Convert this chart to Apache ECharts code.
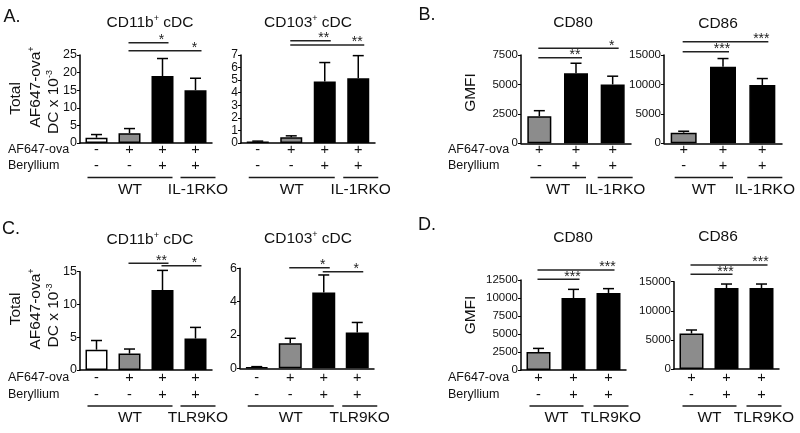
<!DOCTYPE html>
<html><head><meta charset="utf-8">
<script src="https://cdn.jsdelivr.net/npm/echarts/dist/echarts.min.js"></script>
<style>html,body{margin:0;padding:0;background:#fff}#c{width:800px;height:433px}</style>
</head><body><div id="c"></div>
<script>
// ---------------- data ----------------
const A1_values = [1.5, 2.8, 19.0, 15.0];
const A1_errors = [0.9, 1.3, 5.0, 3.4];
const A2_values = [0.12, 0.45, 4.9, 5.15];
const A2_errors = [0.03, 0.12, 1.5, 1.8];
const B1_values = [2300, 5950, 5000];
const B1_errors = [470, 850, 700];
const B2_values = [1800, 13000, 9900];
const B2_errors = [250, 1400, 1100];
const C1_values = [3.1, 2.5, 12.2, 4.8];
const C1_errors = [1.4, 0.7, 3.0, 1.7];
const C2_values = [0.08, 1.5, 4.55, 2.15];
const C2_errors = [0.02, 0.3, 1.05, 0.6];
const D1_values = [2500, 10000, 10700];
const D1_errors = [500, 1200, 600];
const D2_values = [6100, 13900, 13900];
const D2_errors = [600, 700, 700];

const ova4 = ['-', '+', '+', '+'];
const beryllium4 = ['-', '-', '+', '+'];
const ova3 = ['+', '+', '+'];
const beryllium3 = ['-', '+', '+'];
const fill4 = ['white', 'gray', 'black', 'black'];
const fill3 = ['gray', 'black', 'black'];

const groupsA = [['WT', 0, 2], ['IL-1RKO', 3, 3]];
const groupsB = [['WT', 0, 1], ['IL-1RKO', 2, 2]];
const groupsC = [['WT', 0, 2], ['TLR9KO', 3, 3]];
const groupsD = [['WT', 0, 1], ['TLR9KO', 2, 2]];

const A1_sig = [[1, 2, '*'], [1, 3, '*']];
const A2_sig = [[1, 2, '**'], [1, 3, '**']];
const B1_sig = [[0, 1, '**'], [0, 2, '*']];
const B2_sig = [[0, 1, '***'], [0, 2, '***']];
const C1_sig = [[1, 2, '**'], [2, 3, '*']];
const C2_sig = [[1, 2, '*'], [2, 3, '*']];
const D1_sig = [[0, 1, '***'], [0, 2, '***']];
const D2_sig = [[0, 1, '***'], [0, 2, '***']];

const A1_axis = [0, 25, 5];
const A2_axis = [0, 7, 1];
const B1_axis = [0, 7500, 2500];
const B2_axis = [0, 15000, 5000];
const C1_axis = [0, 15, 5];
const C2_axis = [0, 6, 2];
const D1_axis = [0, 12500, 2500];
const D2_axis = [0, 15000, 5000];

// ---------------- layout / style ----------------
const FF = '"Liberation Sans", Arial, Helvetica, sans-serif';
const INK = '#111';
const FILL = { white: '#ffffff', gray: '#8c8c8c', black: '#000000' };
const ROWS = {
  top: { ova: 149.5, be: 166, line: 177.5, label: 190 },
  bottom: { ova: 377.5, be: 394.5, line: 406, label: 417.5 }
};

const panels = [
  { title: ['CD11b', '+', ' cDC'], values: A1_values, errors: A1_errors, axis: A1_axis, sig: A1_sig, ova: ova4, be: beryllium4, fill: fill4, groups: groupsA,
    grid: { left: 80, top: 55, width: 132, height: 88 }, bw: 22, tx: 150, ty: 23, sigY: [42.7, 50.7], row: 'top', lf: 12.5 },
  { title: ['CD103', '+', ' cDC'], values: A2_values, errors: A2_errors, axis: A2_axis, sig: A2_sig, ova: ova4, be: beryllium4, fill: fill4, groups: groupsA,
    grid: { left: 241, top: 55, width: 134, height: 88 }, bw: 22, tx: 308, ty: 23, sigY: [40.7, 45], row: 'top', lf: 12 },
  { title: ['CD80', '', ''], values: B1_values, errors: B1_errors, axis: B1_axis, sig: B1_sig, ova: ova3, be: beryllium3, fill: fill3, groups: groupsB,
    grid: { left: 521, top: 55, width: 110, height: 88.3 }, bw: 24, tx: 573, ty: 23, sigY: [57.7, 48.3], row: 'top', lf: 11.5 },
  { title: ['CD86', '', ''], values: B2_values, errors: B2_errors, axis: B2_axis, sig: B2_sig, ova: ova3, be: beryllium3, fill: fill3, groups: groupsB,
    grid: { left: 664, top: 55, width: 118, height: 88.3 }, bw: 26, tx: 718, ty: 23.5, sigY: [51.7, 41.7], row: 'top', lf: 11.5 },
  { title: ['CD11b', '+', ' cDC'], values: C1_values, errors: C1_errors, axis: C1_axis, sig: C1_sig, ova: ova4, be: beryllium4, fill: fill4, groups: groupsC,
    grid: { left: 80, top: 271.7, width: 132, height: 98.3 }, bw: 22, tx: 150, ty: 240, sigY: [263.3, 265.7], row: 'bottom', lf: 12.5 },
  { title: ['CD103', '+', ' cDC'], values: C2_values, errors: C2_errors, axis: C2_axis, sig: C2_sig, ova: ova4, be: beryllium4, fill: fill4, groups: groupsC,
    grid: { left: 240, top: 268.3, width: 134, height: 100 }, bw: 23, tx: 308, ty: 239, sigY: [267.7, 271.7], row: 'bottom', lf: 12.5 },
  { title: ['CD80', '', ''], values: D1_values, errors: D1_errors, axis: D1_axis, sig: D1_sig, ova: ova3, be: beryllium3, fill: fill3, groups: groupsD,
    grid: { left: 521, top: 280, width: 105, height: 90 }, bw: 24, tx: 573, ty: 238, sigY: [279.3, 270], row: 'bottom', lf: 11.5 },
  { title: ['CD86', '', ''], values: D2_values, errors: D2_errors, axis: D2_axis, sig: D2_sig, ova: ova3, be: beryllium3, fill: fill3, groups: groupsD,
    grid: { left: 674, top: 281.7, width: 105, height: 87.3 }, bw: 24, tx: 718, ty: 237, sigY: [274.3, 265], row: 'bottom', lf: 11.5 }
];

const chart = echarts.init(document.getElementById('c'), null, { renderer: 'canvas' });

const grids = [], xAxes = [], yAxes = [], series = [];
panels.forEach((p, g) => {
  grids.push(Object.assign({ containLabel: false }, p.grid));
  xAxes.push({
    type: 'category', gridIndex: g, data: p.values.map((_, i) => String(i)),
    axisLine: { show: true, lineStyle: { color: '#000', width: 1.5 } },
    axisTick: { show: false }, axisLabel: { show: false }, splitLine: { show: false }
  });
  yAxes.push({
    type: 'value', gridIndex: g, min: p.axis[0], max: p.axis[1], interval: p.axis[2],
    axisLine: { show: true, lineStyle: { color: '#000', width: 1.5 } },
    axisTick: { show: true, length: 3, lineStyle: { color: '#000', width: 1 } },
    axisLabel: { show: true, margin: 3, fontSize: p.lf, fontFamily: FF, color: INK, lineHeight: p.lf,
      showMinLabel: true, showMaxLabel: true, hideOverlap: false, formatter: v => String(v) },
    splitLine: { show: false }
  });
  series.push({
    type: 'bar', xAxisIndex: g, yAxisIndex: g, barWidth: p.bw, silent: true, animation: false,
    data: p.values.map((v, i) => ({ value: v, itemStyle: { color: FILL[p.fill[i]], borderColor: '#000', borderWidth: 1.5 } }))
  });
  series.push({
    type: 'custom', xAxisIndex: g, yAxisIndex: g, silent: true, animation: false, z: 5,
    data: p.values.map((v, i) => [i, v, p.errors[i]]),
    encode: { x: 0, y: 1 },
    renderItem: function (params, api) {
      const i = api.value(0), v = api.value(1), e = api.value(2);
      const a = api.coord([i, v]), b = api.coord([i, v + e]);
      const cw = 11;
      return {
        type: 'group', children: [
          { type: 'line', shape: { x1: a[0], y1: a[1], x2: b[0], y2: b[1] }, style: { stroke: '#000', lineWidth: 1.5 } },
          { type: 'line', shape: { x1: b[0] - cw / 2, y1: b[1], x2: b[0] + cw / 2, y2: b[1] }, style: { stroke: '#000', lineWidth: 1.5 } }
        ]
      };
    }
  });
});

chart.setOption({ animation: false, grid: grids, xAxis: xAxes, yAxis: yAxes, series: series });

// ---------------- annotations ----------------
const G = [];
function txt(x, y, text, size, opts) {
  G.push(Object.assign({
    type: 'text', x: x, y: y, silent: true,
    style: Object.assign({ text: text, fontSize: size, fontFamily: FF, fill: INK, align: 'center', verticalAlign: 'middle' }, (opts && opts.style) || {})
  }, (opts && opts.el) || {}));
}
function rich(x, y, main, sup, tail, size, rot) {
  G.push({
    type: 'text', x: x, y: y, rotation: rot || 0, silent: true,
    style: {
      text: '{t|' + main + '}' + (sup ? '{s|' + sup + '}' : '') + (tail ? '{t|' + tail + '}' : ''),
      align: 'center', verticalAlign: 'middle',
      rich: {
        t: { fontSize: size, fontFamily: FF, fill: INK, color: INK, lineHeight: size + 2 },
        s: { fontSize: Math.round(size * 0.6), fontFamily: FF, fill: INK, color: INK, verticalAlign: 'top', lineHeight: Math.round(size * 0.6) }
      }
    }
  });
}
function seg(x1, y1, x2, y2, w, c) {
  G.push({ type: 'line', silent: true, shape: { x1: x1, y1: y1, x2: x2, y2: y2 }, style: { stroke: c || '#222', lineWidth: w || 1.3 } });
}

panels.forEach((p, g) => {
  const cx = i => chart.convertToPixel({ gridIndex: g }, [i, 0])[0];
  const r = ROWS[p.row];
  rich(p.tx, p.ty, p.title[0], p.title[1], p.title[2], 15.5, 0);
  p.ova.forEach((s, i) => txt(cx(i), r.ova, s, 14.5));
  p.be.forEach((s, i) => txt(cx(i), r.be, s, 14.5));
  p.groups.forEach((gr, k) => {
    const x1 = cx(gr[1]) - (k === 0 ? 9 : 15), x2 = cx(gr[2]) + (k === 0 ? 10 : 20);
    seg(x1, r.line, x2, r.line, 1.5, '#1a1a1a');
    txt((x1 + x2) / 2, r.label, gr[0], 15.5);
  });
  p.sig.forEach((s, k) => {
    const y = p.sigY[k];
    const x1 = cx(s[0]) - 1, x2 = cx(s[1]) + 6;
    seg(x1, y, x2, y, 1.4, '#222');
    txt(cx(s[1]) - 1, y + 4.5, s[2], 14, { style: { verticalAlign: 'bottom', fill: '#222' } });
  });
});

txt(12, 17, 'A.', 18);
txt(427, 15, 'B.', 18);
txt(11, 229, 'C.', 18);
txt(427, 225.5, 'D.', 18);

[[8, 'top'], [448, 'top'], [8, 'bottom'], [448, 'bottom']].forEach(([x, row]) => {
  txt(x, ROWS[row].ova, 'AF647-ova', 12.5, { style: { align: 'left' } });
  txt(x, ROWS[row].be, 'Beryllium', 12.5, { style: { align: 'left' } });
});

const R = Math.PI / 2;
rich(15.5, 98.5, 'Total', '', '', 15.5, R);
rich(35.5, 87, 'AF647-ova', '+', '', 15.5, R);
rich(53.5, 102, 'DC x 10', '-3', '', 15.5, R);
rich(16, 309, 'Total', '', '', 15.5, R);
rich(36, 309, 'AF647-ova', '+', '', 15.5, R);
rich(53.5, 315.5, 'DC x 10', '-3', '', 15.5, R);
rich(470.5, 92.5, 'GMFI', '', '', 15.5, R);
rich(471, 315, 'GMFI', '', '', 15.5, R);

chart.setOption({ graphic: { elements: G } });
</script></body></html>
